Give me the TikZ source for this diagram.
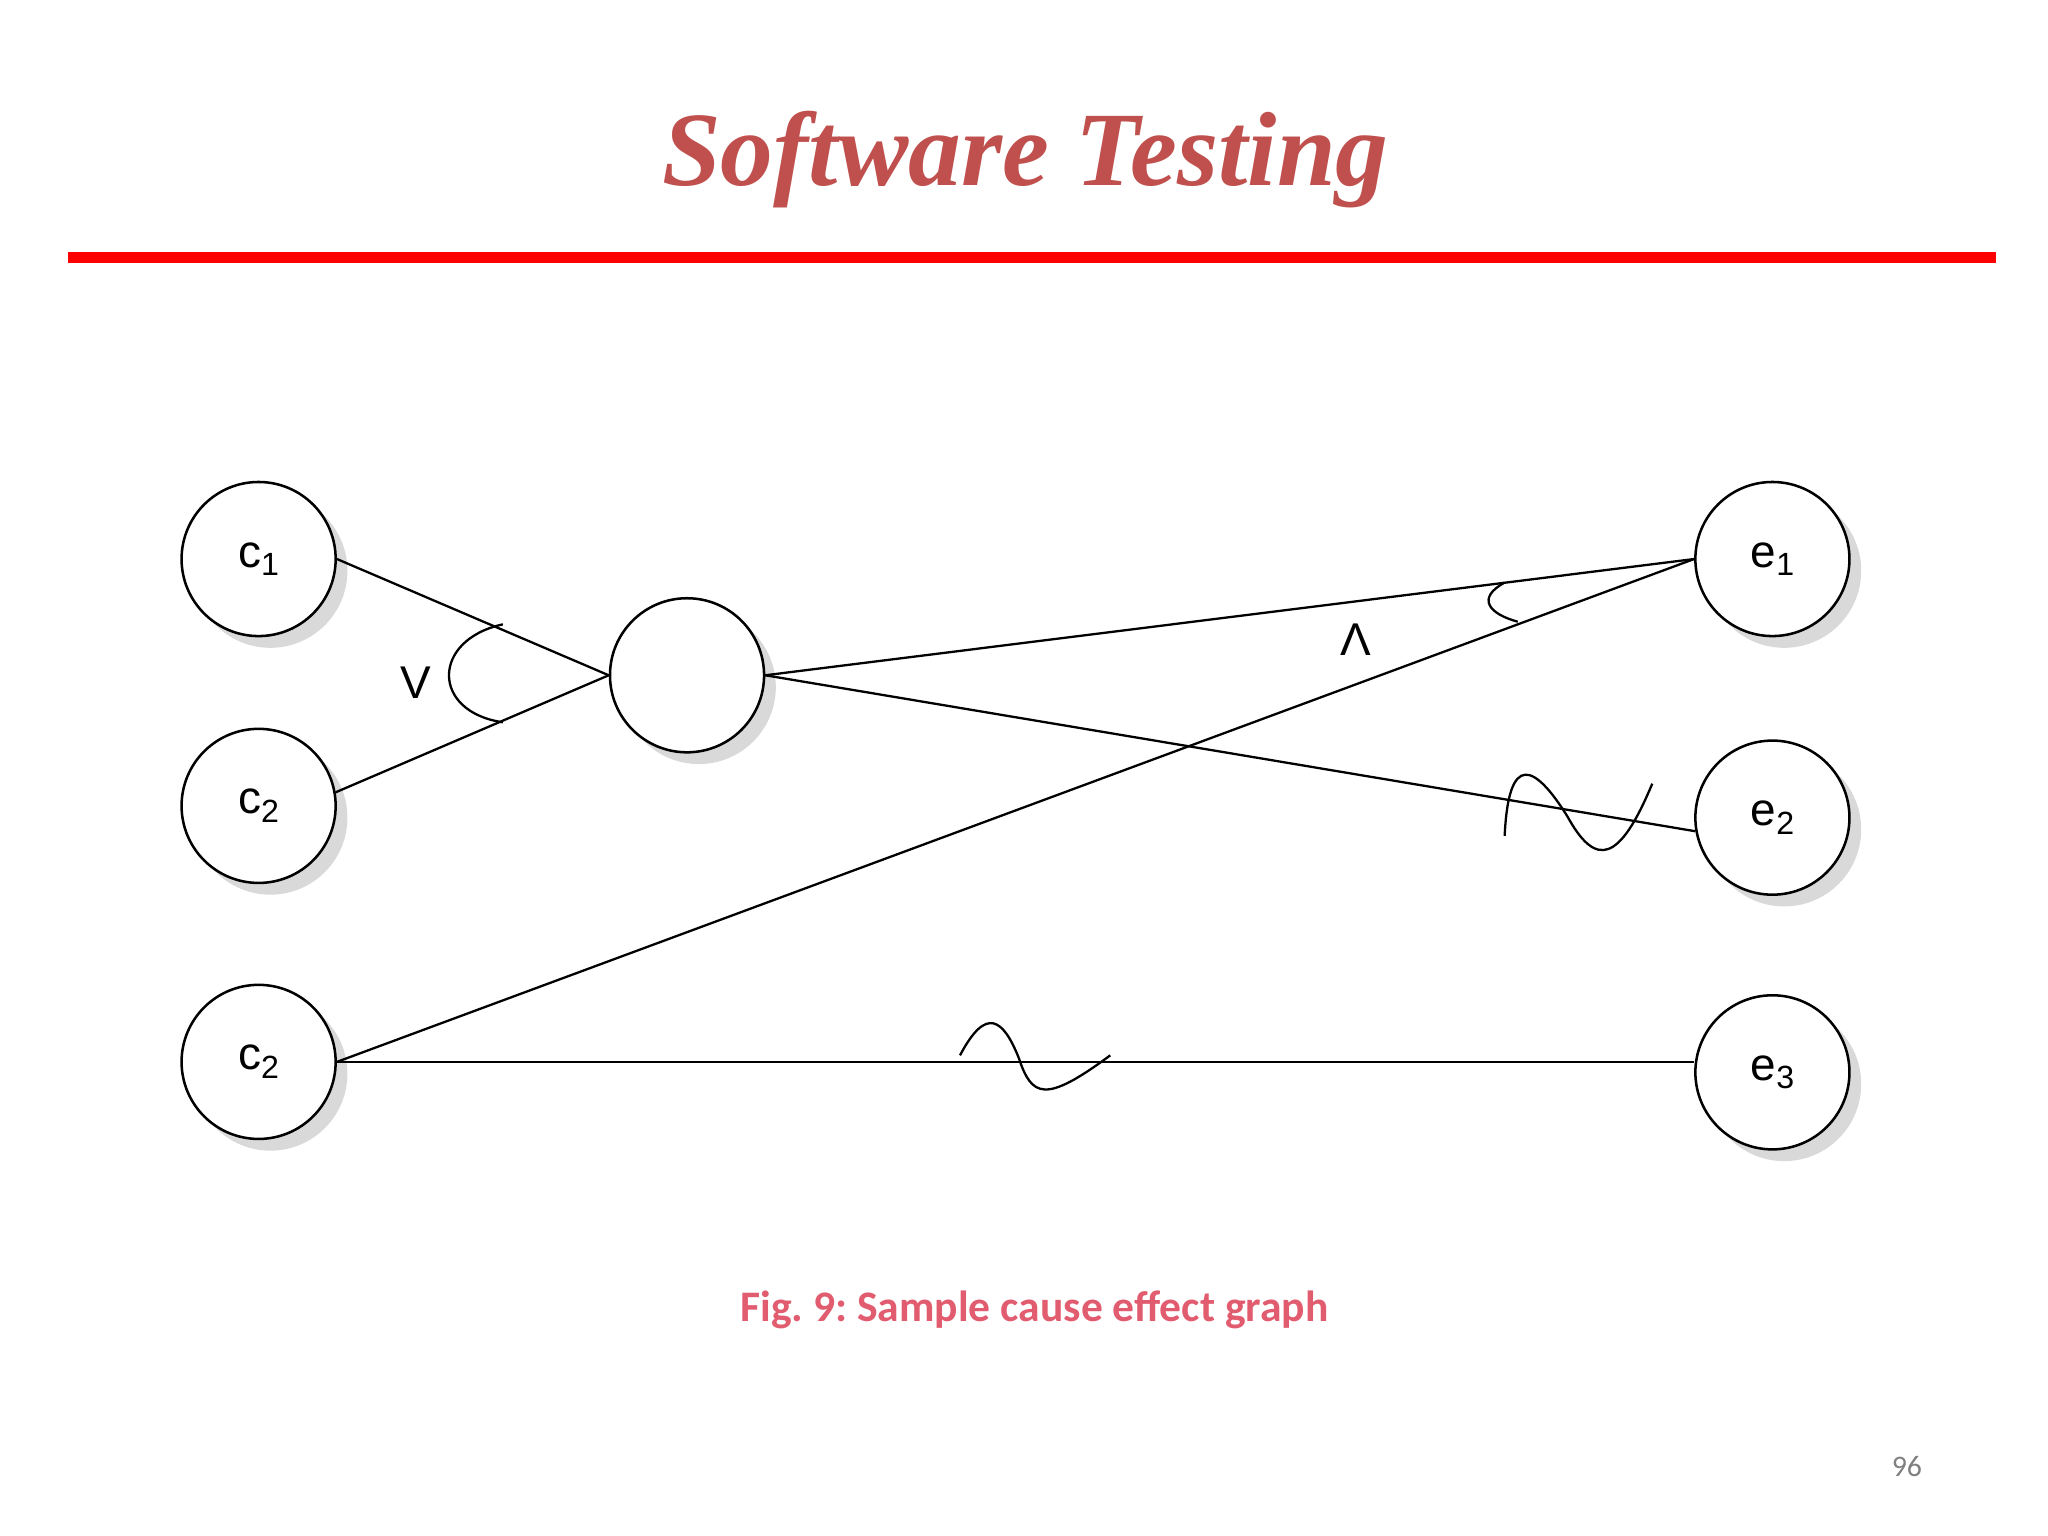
\documentclass[tikz,border=0pt]{standalone}
\usepackage{fontspec}
\setmainfont{Liberation Serif}
\newfontfamily\capfont{Carlito}
\newfontfamily\nodefont{Liberation Sans}
\usetikzlibrary{calc}
\definecolor{titlec}{RGB}{192,80,77}
\definecolor{capc}{RGB}{226,92,112}
\newcommand{\sbx}[1]{\raisebox{-0.35ex}{\fontsize{14}{14}\selectfont #1}}
\begin{document}
\begin{tikzpicture}[x=0.02cm,y=-0.02cm,
  circ/.style={circle,draw,line width=1.1pt,fill=white,minimum size=2.36cm,inner sep=0pt,font=\nodefont\fontsize{20}{22}\selectfont},
  shad/.style={circle,fill=black!15,minimum size=2.36cm,draw=none},
  ln/.style={line width=1pt}]
\useasboundingbox (0,0) rectangle (1568,1176);
\node[font=\bfseries\itshape\fontsize{46}{52}\selectfont,text=titlec] (title) at (785,122) {Software Testing};
\draw[red,line width=5pt] (52,197) -- (1528,197);
\foreach \px/\py in {198/428,198/617,198/813,526/517,1357/428,1357/626,1357/821}
  \node[shad] at (\px+9,\py+9) {};
\node[circ] (c1) at (198,428) {c\sbx{1}};
\node[circ] (c2) at (198,617) {c\sbx{2}};
\node[circ] (c3) at (198,813) {c\sbx{2}};
\node[circ] (m) at (526,517) {};
\node[circ] (e1) at (1357,428) {e\sbx{1}};
\node[circ] (e2) at (1357,626) {e\sbx{2}};
\node[circ] (e3) at (1357,821) {e\sbx{3}};
\draw[ln] (c1.east) -- (m.west);
\draw[ln] (c2.10) -- (m.west);
\draw[ln] (m.east) -- (e1.west);
\draw[ln] (m.east) -- (e2.190);
\draw[ln] (c3.east) -- (e1.west);
\draw[ln] (c3.east) -- (e3.west |- c3.east);
\draw[ln] (385,478) .. controls (330,490) and (330,545) .. (385,553);
\draw[ln] (1152,446) .. controls (1130,458) and (1140,470) .. (1162,476);
\node[font=\nodefont\fontsize{20}{22}\selectfont] (vee) at (318,523) {V};
\node[font=\nodefont\fontsize{20}{22}\selectfont] (wedge) at (1038,490) {Λ};
\draw[ln] (1152,640) .. controls (1155,575) and (1175,585) .. (1200,625) .. controls (1222,665) and (1240,660) .. (1265,600);
\draw[ln] (735,808) .. controls (755,770) and (768,780) .. (780,810) .. controls (790,840) and (800,845) .. (850,808);
\node[font=\capfont\bfseries\fontsize{19}{22}\selectfont,text=capc] (cap) at (792,1003) {\frenchspacing Fig. 9: Sample cause effect graph};
\node[font=\capfont\fontsize{13}{15}\selectfont,text=gray] (pg) at (1460,1123) {96};
\end{tikzpicture}
\end{document}
